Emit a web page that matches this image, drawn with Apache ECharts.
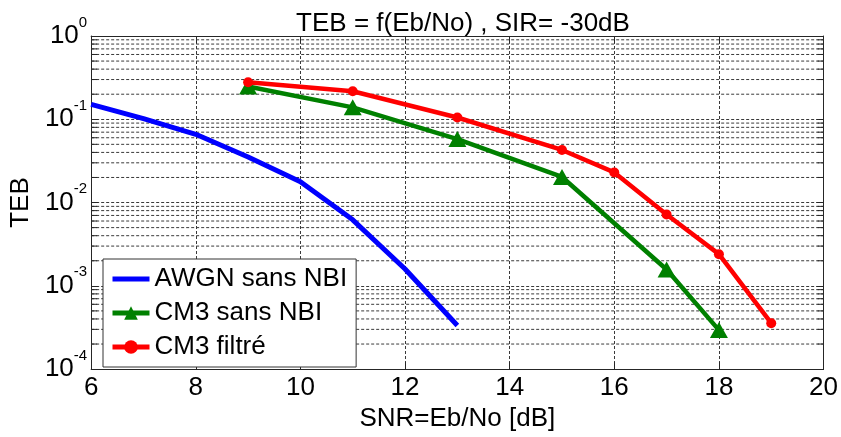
<!DOCTYPE html>
<html>
<head>
<meta charset="utf-8">
<script src="https://cdn.jsdelivr.net/npm/echarts@6/dist/echarts.min.js"></script>
<style>html,body{margin:0;padding:0;background:#fff}#c{width:841px;height:437px}</style>
</head>
<body>
<div id="c"></div>
<script>
// ---- data ----
var titleText = 'TEB = f(Eb/No) , SIR= -30dB';
var xName = 'SNR=Eb/No [dB]';
var yName = 'TEB';
var seriesNames = ['AWGN sans NBI', 'CM3 sans NBI', 'CM3 filtré'];
var awgnX = [6, 7, 8, 9, 10, 11, 12, 13];
var awgnY = [0.151, 0.102, 0.066, 0.0353, 0.0178, 0.0062, 0.00159, 0.000334];
var cm3X = [9, 11, 13, 15, 17, 18];
var cm3Y = [0.247, 0.139, 0.0578, 0.0203, 0.00157, 0.000294];
var filtX = [9, 11, 13, 15, 16, 17, 18, 19];
var filtY = [0.278, 0.217, 0.105, 0.0428, 0.023, 0.0072, 0.0024, 0.000356];
var xMin = 6, xMax = 20, xStep = 2;
var yMin = 1e-4, yMax = 1;

function pairs(xs, ys) { return xs.map(function (x, i) { return [x, ys[i]]; }); }
var minorVals = [];
for (var k = -4; k <= -1; k++) for (var m = 2; m <= 9; m++) minorVals.push(m * Math.pow(10, k));

var FONT = 'Liberation Sans, Arial, sans-serif';
var FS = 26;
var gridColor = '#3a3a3a';
var boxColor = '#262626';

var chart = echarts.init(document.getElementById('c'));
var yLabel = {
  fontFamily: FONT, color: '#000', margin: 4,
  formatter: function (v) {
    var e = Math.round(Math.log10(v));
    return '{b|10}{s|' + e + '}';
  },
  rich: {
    b: { fontSize: FS, fontFamily: FONT, color: '#000', verticalAlign: 'middle', lineHeight: 42 },
    s: { fontSize: 15, fontFamily: FONT, color: '#000', verticalAlign: 'top', lineHeight: 15 }
  }
};
chart.setOption({
  animation: false,
  backgroundColor: '#fff',
  title: {
    text: titleText, left: 458, textAlign: 'center', top: 6,
    textStyle: { fontFamily: FONT, fontSize: FS, fontWeight: 'normal', color: '#000' }
  },
  grid: { left: 89, right: 14, top: 36, bottom: 64 },
  legend: {
    orient: 'vertical', left: 103, top: 259,
    data: [
      { name: seriesNames[0], itemStyle: { opacity: 0 } },
      { name: seriesNames[1] },
      { name: seriesNames[2] }
    ],
    backgroundColor: '#fff', borderColor: '#333', borderWidth: 1,
    padding: [7, 9, 7, 7], itemGap: 8, itemWidth: 37, itemHeight: 17,
    lineStyle: { width: 5 },
    textStyle: { fontFamily: FONT, fontSize: FS, color: '#000', lineHeight: 26 }
  },
  xAxis: [{
    type: 'value', min: xMin, max: xMax, interval: xStep,
    name: xName, nameLocation: 'middle', nameGap: 32,
    nameTextStyle: { fontFamily: FONT, fontSize: FS, color: '#000' },
    axisLine: { show: true, onZero: false, lineStyle: { color: boxColor, width: 1 } },
    axisTick: { show: true, inside: true, length: 7, lineStyle: { color: boxColor } },
    axisLabel: { fontFamily: FONT, fontSize: FS, color: '#000', margin: 6 },
    splitLine: { show: true, lineStyle: { color: gridColor, type: [3, 2], width: 1 } }
  }, {
    type: 'value', position: 'top', min: xMin, max: xMax, interval: xStep,
    axisLine: { show: true, onZero: false, lineStyle: { color: boxColor, width: 1 } },
    axisTick: { show: true, inside: true, length: 7, lineStyle: { color: boxColor } },
    axisLabel: { show: false }, splitLine: { show: false }
  }],
  yAxis: [{
    type: 'log', logBase: 10, min: yMin, max: yMax,
    name: yName, nameLocation: 'middle', nameGap: 44, nameRotate: 90,
    nameTextStyle: { fontFamily: FONT, fontSize: FS, color: '#000' },
    axisLine: { show: true, onZero: false, lineStyle: { color: boxColor, width: 1 } },
    axisTick: { show: true, inside: true, length: 7, lineStyle: { color: boxColor } },
    axisLabel: yLabel,
    splitLine: { show: true, lineStyle: { color: gridColor, type: [3, 2], width: 1 } }
  }, {
    type: 'log', logBase: 10, min: yMin, max: yMax, position: 'right',
    axisLine: { show: true, onZero: false, lineStyle: { color: boxColor, width: 1 } },
    axisTick: { show: true, inside: true, length: 7, lineStyle: { color: boxColor } },
    axisLabel: { show: false }, splitLine: { show: false }
  }],
  series: [{
    type: 'custom', silent: true, z: 1,
    data: minorVals.map(function (v) { return [xMin, v]; }),
    renderItem: function (params, api) {
      var v = api.value(1);
      var a = api.coord([xMin, v]), b = api.coord([xMax, v]);
      var s = { stroke: gridColor, lineWidth: 1, lineDash: [3, 2] };
      var t = { stroke: boxColor, lineWidth: 1 };
      return {
        type: 'group', children: [
          { type: 'line', shape: { x1: a[0], y1: a[1], x2: b[0], y2: b[1] }, style: s },
          { type: 'line', shape: { x1: a[0], y1: a[1], x2: a[0] + 6, y2: a[1] }, style: t },
          { type: 'line', shape: { x1: b[0] - 6, y1: b[1], x2: b[0], y2: b[1] }, style: t }
        ]
      };
    }
  }, {
    name: seriesNames[0], type: 'line', z: 3, data: pairs(awgnX, awgnY),
    symbol: 'none', color: '#0000ff',
    lineStyle: { color: '#0000ff', width: 5 }
  }, {
    name: seriesNames[1], type: 'line', z: 3, data: pairs(cm3X, cm3Y),
    symbol: 'triangle', symbolSize: [18, 16], color: '#008000',
    itemStyle: { color: '#008000' }, lineStyle: { color: '#008000', width: 4.5 }
  }, {
    name: seriesNames[2], type: 'line', z: 3, data: pairs(filtX, filtY),
    symbol: 'circle', symbolSize: 10, color: '#ff0000',
    itemStyle: { color: '#ff0000' }, lineStyle: { color: '#ff0000', width: 4.5 }
  }]
});
</script>
</body>
</html>
